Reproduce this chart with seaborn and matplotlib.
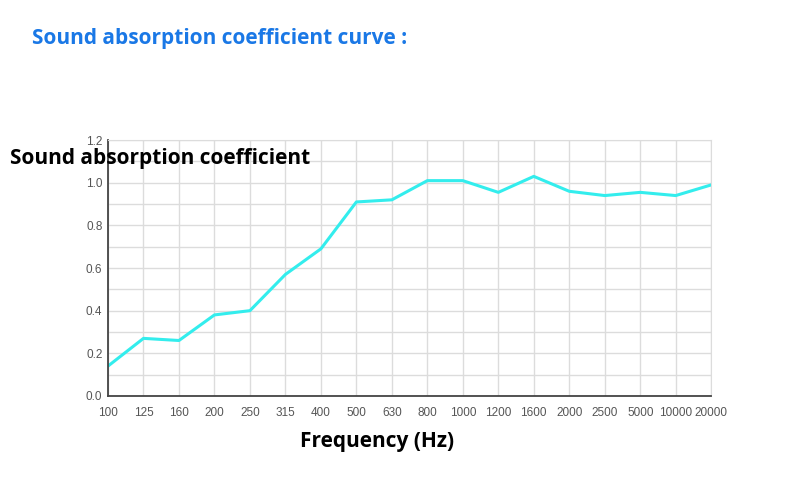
import pandas as pd
import matplotlib
matplotlib.use("Agg")
import matplotlib.pyplot as plt
import seaborn as sns
from matplotlib.ticker import MultipleLocator

# Data
frequencies = ["100", "125", "160", "200", "250", "315", "400", "500", "630",
               "800", "1000", "1200", "1600", "2000", "2500", "5000", "10000", "20000"]
coefficients = [0.14, 0.27, 0.26, 0.38, 0.40, 0.57, 0.69, 0.91, 0.92,
                1.01, 1.01, 0.955, 1.03, 0.96, 0.94, 0.955, 0.94, 0.99]

df = pd.DataFrame({"Frequency": frequencies, "Coefficient": coefficients})

sns.set_style("white")
plt.rcParams["font.family"] = ["Open Sans", "DejaVu Sans"]

fig = plt.figure(figsize=(8, 4.9), dpi=100)
ax = fig.add_axes([0.135, 0.192, 0.754, 0.522])

sns.lineplot(data=df, x="Frequency", y="Coefficient", sort=False,
             color="#33eded", linewidth=2.2, ax=ax)

ax.set_xlim(0, len(frequencies) - 1)
ax.set_ylim(0, 1.2)
ax.yaxis.set_major_locator(MultipleLocator(0.2))
ax.yaxis.set_minor_locator(MultipleLocator(0.1))
ax.yaxis.set_major_formatter(lambda v, p: f"{v:.1f}")
ax.grid(True, which="both", color="#dcdcdc", linewidth=1)
ax.set_axisbelow(True)

for side in ["top", "right"]:
    ax.spines[side].set_color("#dcdcdc")
for side in ["left", "bottom"]:
    ax.spines[side].set_color("#444444")
    ax.spines[side].set_linewidth(1.3)

# tick labels in an Arial-like face
for lbl in ax.get_xticklabels() + ax.get_yticklabels():
    lbl.set_family("Liberation Sans")
ax.tick_params(axis="x", which="major", length=5, width=1.2, color="#444444",
               labelsize=8.5, labelcolor="#555555", pad=3)
ax.tick_params(axis="y", which="both", length=0, labelsize=8.5,
               labelcolor="#555555", pad=4)

ax.set_xlabel("")
ax.set_ylabel("")

fig.text(0.04, 0.922, "Sound absorption coefficient curve :", color="#1a78e6",
         fontsize=15, fontweight="bold", va="center")
fig.text(0.012, 0.677, "Sound absorption coefficient", color="black",
         fontsize=15, fontweight="bold", va="center")
fig.text(0.471, 0.100, "Frequency (Hz)", color="black",
         fontsize=15, fontweight="bold", va="center", ha="center")

fig.savefig("out.png", dpi=100, facecolor="white")
